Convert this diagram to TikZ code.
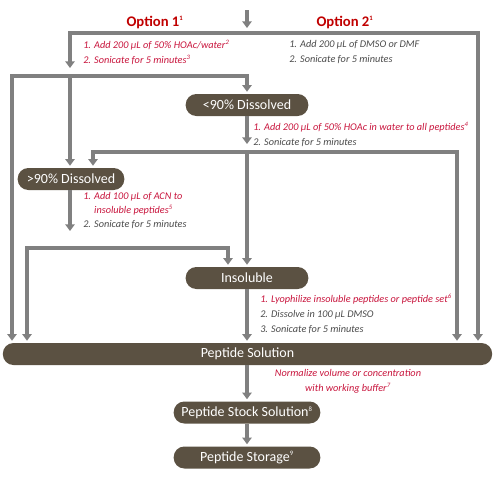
\documentclass[tikz,border=0pt]{standalone}
\usepackage{fontspec}
\setmainfont{Carlito}
\usetikzlibrary{arrows.meta,positioning,calc}
\definecolor{boxcol}{HTML}{5B5142}
\definecolor{linecol}{HTML}{808080}
\definecolor{optcol}{HTML}{C00000}
\definecolor{notecol}{HTML}{C8143C}
\definecolor{stepcol}{HTML}{4A4A4A}
\newcommand{\fnum}[1]{\/\textsuperscript{\fontsize{5}{5}\selectfont#1}}
\tikzset{
  stage/.style={fill=boxcol, text=white, rounded corners=8pt, minimum height=16.5pt,
    inner sep=0pt, font=\fontsize{10.5}{12}\selectfont},
  flow/.style={line width=2.4pt, linecol, -{Triangle[width=7pt,length=5pt]}, shorten >=1.5pt},
  split/.style={line width=2.4pt, linecol,
    {Triangle[width=7pt,length=5pt]}-{Triangle[width=7pt,length=5pt]},
    shorten >=1.5pt, shorten <=1.5pt},
  steps/.style={anchor=north west, align=left, inner sep=0pt,
    font=\itshape\fontsize{7.7}{11.2}\selectfont, text=stepcol},
  option/.style={font=\bfseries\fontsize{11}{12}\selectfont, text=optcol},
}

\begin{document}
\begin{tikzpicture}[x=0.75pt,y=-0.75pt]
  \useasboundingbox (0,0) rectangle (494,480);

  %--------------------------------------------
  % Stages
  %--------------------------------------------
  \node[stage, minimum width=92pt]  (lt)    at (247,105)   {<90\% Dissolved};
  \node[stage, minimum width=80pt]  (gt)    at (71,179)    {>90\% Dissolved};
  \node[stage, minimum width=92pt]  (insol) at (247,278)   {Insoluble};
  \node[stage, minimum width=367pt] (sol)   at (247.5,354) {Peptide Solution};
  \node[stage, minimum width=110pt] (stock) at (247,412.5) {Peptide Stock Solution\fnum{8}};
  \node[stage, minimum width=110pt] (store) at (247,457.5) {Peptide Storage\fnum{9}};

  %--------------------------------------------
  % Options
  %--------------------------------------------
  \node[option] (opt1) at (155,22) {Option 1\fnum{1}};
  \node[option] (opt2) at (345,22) {Option 2\fnum{1}};

  \node[steps] (step1) at (83,40)
    {\textcolor{notecol}{1. Add 200 µL of 50\% HOAc/water\fnum{2}}\\
     \textcolor{notecol}{2. Sonicate for 5 minutes\fnum{3}}};
  \node[steps] (step2) at (289,40)
    {1. Add 200 µL of DMSO or DMF\\
     2. Sonicate for 5 minutes};
  \node[steps] (step3) at (253,122)
    {\textcolor{notecol}{1. Add 200 µL of 50\% HOAc in water to all peptides\fnum{4}}\\
     2. Sonicate for 5 minutes};
  \node[steps, font=\itshape\fontsize{7.7}{10.5}\selectfont] (step4) at (83,192)
    {\textcolor{notecol}{1. Add 100 µL of ACN to}\\
     \textcolor{notecol}{\phantom{1. }insoluble peptides\fnum{5}}\\
     2. Sonicate for 5 minutes};
  \node[steps] (step5) at (260,294)
    {\textcolor{notecol}{1. Lyophilize insoluble peptides or peptide set\fnum{6}}\\
     2. Dissolve in 100 µL DMSO\\
     3. Sonicate for 5 minutes};
  \node[steps, anchor=north, align=center, text=notecol] (norm) at (348,369)
    {Normalize volume or concentration\\
     with working buffer\fnum{7}};

  %--------------------------------------------
  % Junctions
  %--------------------------------------------
  \coordinate (top)  at (247,10);
  \coordinate (topE) at (247,30);
  \coordinate (o1)   at (70,70);
  \coordinate (o2)   at (478,33);
  \coordinate (s1L)  at (12,76);
  \coordinate (s1R)  at (247,76);
  \coordinate (g1)   at (70,76);
  \coordinate (m1)   at (247,146);
  \coordinate (s2L)  at (93,152);
  \coordinate (s2M)  at (247,152);
  \coordinate (s2R)  at (457,152);
  \coordinate (g2)   at (70,233);
  \coordinate (s3L)  at (27,248);
  \coordinate (s3R)  at (228,248);

  %--------------------------------------------
  % Connectors
  %--------------------------------------------
  \draw[flow] (top) -- (topE);
  \draw[split] (o1) |- (o2) -- (o2 |- sol.north);

  \draw[split] (s1L |- sol.north) -- (s1L) -- (s1R) -- (lt.north);
  \draw[flow] (g1) -- (g1 |- gt.north);

  \draw[flow] (lt.south) -- (m1);
  \draw[split] (s2L |- gt.north) -- (s2L) -- (s2R) -- (s2R |- sol.north);
  \draw[flow] (s2M) -- (insol.north);

  \draw[flow] (gt.south -| g2) -- (g2);
  \draw[split] (s3L |- sol.north) -- (s3L) -- (s3R) -- (s3R |- insol.north);

  \draw[flow] (insol.south) -- (insol.south |- sol.north);
  \draw[flow] (sol.south -| stock.north) -- (stock.north);
  \draw[flow] (stock.south) -- (store.north);
\end{tikzpicture}
\end{document}
